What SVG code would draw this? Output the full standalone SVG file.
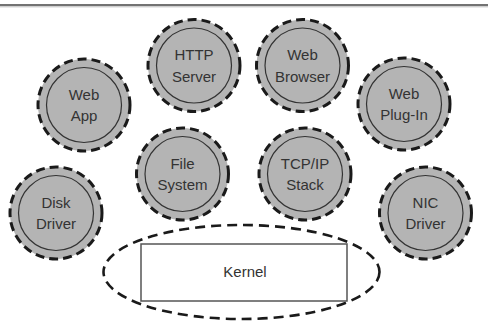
<svg xmlns="http://www.w3.org/2000/svg" width="488" height="322" viewBox="0 0 488 322">
  <style>
    .ring { fill: #b4b4b4; stroke: #1a1a1a; stroke-width: 3; stroke-dasharray: 9 5; }
    .core { fill: none; stroke: #333; stroke-width: 1.2; }
    .label { font-family: "Liberation Sans", Arial, sans-serif; font-size: 15px; fill: #333; text-anchor: middle; }
    .kernel-ring { fill: none; stroke: #1a1a1a; stroke-width: 2.6; stroke-dasharray: 10 6; }
    .kernel-box { fill: #fff; stroke: #555; stroke-width: 1.5; }
  </style>

  <rect width="488" height="322" fill="#fff"/>
  <line x1="0" y1="5" x2="488" y2="5" stroke="#444" stroke-width="1.6"/>
  <line x1="0" y1="6.8" x2="488" y2="6.8" stroke="#aaa" stroke-width="0.8"/>

  <g id="connectors"></g>

  <g id="kernel">
    <ellipse class="kernel-ring" cx="241.5" cy="272" rx="138" ry="47"/>
    <rect class="kernel-box" x="141" y="244" width="206" height="57"/>
    <text class="label" x="245" y="277">Kernel</text>
  </g>

  <g id="web-app" transform="translate(84,105)">
    <circle class="ring" r="46"/>
    <circle class="core" r="37.5"/>
    <text class="label" y="-5.4">Web</text>
    <text class="label" y="16.1">App</text>
  </g>

  <g id="http-server" transform="translate(194,65.5)">
    <circle class="ring" r="46"/>
    <circle class="core" r="37.5"/>
    <text class="label" y="-5.4">HTTP</text>
    <text class="label" y="16.1">Server</text>
  </g>

  <g id="web-browser" transform="translate(302.5,65.5)">
    <circle class="ring" r="46"/>
    <circle class="core" r="37.5"/>
    <text class="label" y="-5.4">Web</text>
    <text class="label" y="16.1">Browser</text>
  </g>

  <g id="web-plug-in" transform="translate(404,104)">
    <circle class="ring" r="46"/>
    <circle class="core" r="37.5"/>
    <text class="label" y="-5.4">Web</text>
    <text class="label" y="16.1">Plug-In</text>
  </g>

  <g id="file-system" transform="translate(182.5,174)">
    <circle class="ring" r="46"/>
    <circle class="core" r="37.5"/>
    <text class="label" y="-5.4">File</text>
    <text class="label" y="16.1">System</text>
  </g>

  <g id="tcp-ip-stack" transform="translate(305,174)">
    <circle class="ring" r="46"/>
    <circle class="core" r="37.5"/>
    <text class="label" y="-5.4">TCP/IP</text>
    <text class="label" y="16.1">Stack</text>
  </g>

  <g id="disk-driver" transform="translate(56,213)">
    <circle class="ring" r="46"/>
    <circle class="core" r="37.5"/>
    <text class="label" y="-5.4">Disk</text>
    <text class="label" y="16.1">Driver</text>
  </g>

  <g id="nic-driver" transform="translate(425.5,213)">
    <circle class="ring" r="46"/>
    <circle class="core" r="37.5"/>
    <text class="label" y="-5.4">NIC</text>
    <text class="label" y="16.1">Driver</text>
  </g>
</svg>
